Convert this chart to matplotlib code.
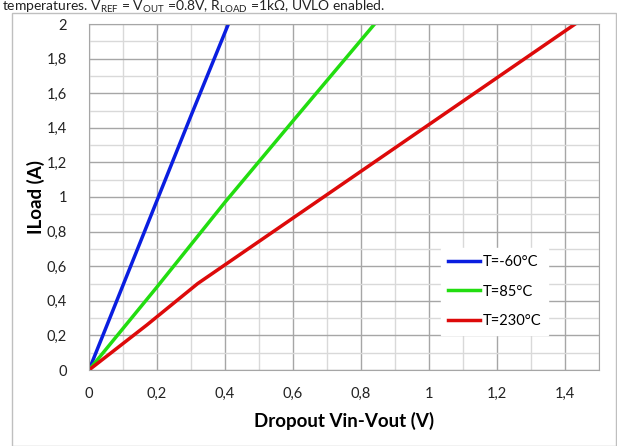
import matplotlib
matplotlib.use("Agg")
import matplotlib.pyplot as plt
from matplotlib.ticker import MultipleLocator, FuncFormatter
from matplotlib.patches import Rectangle

plt.rcParams['font.family'] = ['Lato', 'DejaVu Sans']

x_blue = [0, 0.1, 0.2, 0.3, 0.41]
y_blue = [0, 0.49, 0.98, 1.47, 2.0]
x_green = [0, 0.2, 0.4, 0.6, 0.84]
y_green = [0, 0.48, 0.97, 1.44, 2.0]
x_red = [0, 0.17, 0.32, 0.69, 1.06, 1.43]
y_red = [0, 0.26, 0.5, 1.0, 1.5, 2.0]
labels = ["T=-60°C", "T=85°C", "T=230°C"]

fig = plt.figure(figsize=(6.17, 4.46), dpi=100)
# outer chart border
fig.patches.append(Rectangle((12/617, 0.0), 1 - 12/617 - 0.002, 1 - 13/446, transform=fig.transFigure,
                             fill=False, edgecolor='#bfbfbf', linewidth=1.0))
fig.text(0.004, 1 - 11/446,
         "temperatures. V$_{\\mathregular{REF}}$ = V$_{\\mathregular{OUT}}$ =0.8V, R$_{\\mathregular{LOAD}}$ =1kΩ, UVLO enabled.",
         ha='left', va='baseline', fontsize=10, color='#222222')

ax = fig.add_axes([89/617, 1 - 370/446, (599 - 89)/617, (370 - 24)/446])
ax.set_xlim(0, 1.5)
ax.set_ylim(0, 2)
ax.xaxis.set_major_locator(MultipleLocator(0.2))
ax.xaxis.set_minor_locator(MultipleLocator(0.1))
ax.yaxis.set_major_locator(MultipleLocator(0.2))
ax.yaxis.set_minor_locator(MultipleLocator(0.1))
fmt = FuncFormatter(lambda v, p: ('%g' % round(v, 2)).replace('.', ','))
ax.xaxis.set_major_formatter(fmt)
ax.yaxis.set_major_formatter(fmt)
ax.grid(which='major', color='#a6a6a6', linewidth=1.0)
ax.grid(which='minor', color='#d9d9d9', linewidth=1.0)
ax.set_axisbelow(True)
ax.tick_params(which='both', length=0, labelsize=10.5, colors='#222222')
ax.tick_params(axis='x', pad=12)
ax.tick_params(axis='y', pad=16)
for s in ax.spines.values():
    s.set_color('#a6a6a6')

ax.plot(x_blue, y_blue, color='#0a1ee0', lw=2.5, label=labels[0])
ax.plot(x_green, y_green, color='#22dd10', lw=2.5, label=labels[1])
ax.plot(x_red, y_red, color='#dd0a0a', lw=2.5, label=labels[2])

ax.set_xlabel("Dropout Vin-Vout (V)", fontsize=13.5, fontweight='bold', labelpad=8)
ax.set_ylabel("ILoad (A)", fontsize=13.5, fontweight='bold', labelpad=1)

leg = ax.legend(loc='upper left', borderaxespad=0,
                frameon=True, fancybox=False, fontsize=10.5, handlelength=2.2, handletextpad=0.15,
                labelspacing=1.05, borderpad=0.5)
leg.get_frame().set_edgecolor('white')
leg.get_frame().set_facecolor('white')
leg.get_frame().set_alpha(1)
leg.set_bbox_to_anchor(((441-89)/510, 1 - (248-24)/346), transform=ax.transAxes)

fig.savefig("out.png", dpi=100)
